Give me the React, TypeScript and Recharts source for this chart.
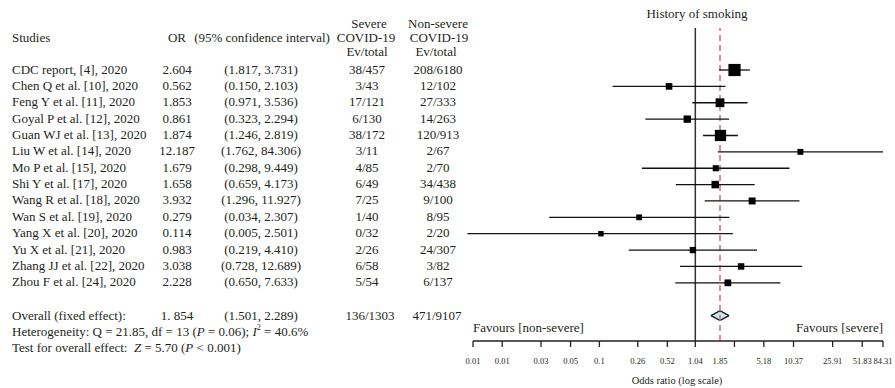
import { ComposedChart, Scatter, ErrorBar, Area, XAxis, YAxis, ReferenceLine } from 'recharts'

const studies = [
  'CDC report, [4], 2020',
  'Chen Q et al. [10], 2020',
  'Feng Y et al. [11], 2020',
  'Goyal P et al. [12], 2020',
  'Guan WJ et al. [13], 2020',
  'Liu W et al. [14], 2020',
  'Mo P et al. [15], 2020',
  'Shi Y et al. [17], 2020',
  'Wang R et al. [18], 2020',
  'Wan S et al. [19], 2020',
  'Yang X et al. [20], 2020',
  'Yu X et al. [21], 2020',
  'Zhang JJ et al. [22], 2020',
  'Zhou F et al. [24], 2020',
]
const oddsRatios = [2.604, 0.562, 1.853, 0.861, 1.874, 12.187, 1.679, 1.658, 3.932, 0.279, 0.114, 0.983, 3.038, 2.228]
const ciLower = [1.817, 0.15, 0.971, 0.323, 1.246, 1.762, 0.298, 0.659, 1.296, 0.034, 0.005, 0.219, 0.728, 0.65]
const ciUpper = [3.731, 2.103, 3.536, 2.294, 2.819, 84.306, 9.449, 4.173, 11.927, 2.307, 2.501, 4.41, 12.689, 7.633]
const severeCounts = ['38/457', '3/43', '17/121', '6/130', '38/172', '3/11', '4/85', '6/49', '7/25', '1/40', '0/32', '2/26', '6/58', '5/54']
const nonSevereCounts = ['208/6180', '12/102', '27/333', '14/263', '120/913', '2/67', '2/70', '34/438', '9/100', '8/95', '2/20', '24/307', '3/82', '6/137']
// study weights (%)
const weights = [34.7, 2.6, 10.8, 4.7, 27.0, 1.2, 1.5, 5.3, 3.6, 1.0, 0.5, 2.0, 2.2, 3.0]

const overallOR = 1.854
const overallLower = 1.501
const overallUpper = 2.289
const nullLine = 1.04

const tickValues = [0.0057, 0.0113, 0.028, 0.056, 0.11, 0.27, 0.54, 1.04, 1.854, 2.6, 5.18, 10.37, 25.91, 51.83, 84.31]
const tickLabels = ['0.01', '0.01', '0.03', '0.05', '0.1', '0.26', '0.52', '1.04', '1.85', '', '5.18', '10.37', '25.91', '51.83', '84.31']

const FONT = "'Liberation Serif', 'Times New Roman', serif"
const INK = '#231f20'
const ROW0 = 69
const ROW_H = 16.37

const scatterData = oddsRatios.map((or, i) => ({
  x: or,
  y: i,
  err: [or - ciLower[i], ciUpper[i] - or],
  w: weights[i],
}))

const diamondData = [
  { x: overallLower, band: [15, 15] },
  { x: overallOR, band: [14.7, 15.3] },
  { x: overallUpper, band: [15, 15] },
]

function Box(props: any) {
  const { cx, cy, payload } = props
  const s = 4.5 + 1.3 * Math.sqrt(payload.w)
  return <rect x={cx - s / 2} y={cy - s / 2} width={s} height={s} fill="#000" />
}

function AxisTick(props: any) {
  const { x, y, payload } = props
  const i = tickValues.indexOf(payload.value)
  return (
    <g>
      {payload.value !== overallOR && <line x1={x} x2={x} y1={y} y2={y + 6} stroke="#222" strokeWidth={1.3} />}
      <text x={x} y={y + 20} textAnchor="middle" dominantBaseline="central" fontSize={8.5} fontFamily={FONT} fill={INK}>
        {tickLabels[i]}
      </text>
    </g>
  )
}

function Table() {
  const t = (x: number, y: number, s: string, anchor = 'middle') => (
    <text x={x} y={y} textAnchor={anchor} dominantBaseline="central">{s}</text>
  )
  return (
    <svg width={895} height={388} style={{ position: 'absolute', left: 0, top: 0, pointerEvents: 'none' }}>
      <g fontFamily={FONT} fontSize={13} fill={INK}>
        {t(697, 13, 'History of smoking')}
        {t(12, 37, 'Studies', 'start')}
        {t(177, 37, 'OR')}
        {t(262, 37, '(95% confidence interval)')}
        {t(369, 23, 'Severe')}
        {t(366, 37, 'COVID-19')}
        {t(367, 51, 'Ev/total')}
        {t(438, 23, 'Non-severe')}
        {t(439, 37, 'COVID-19')}
        {t(436, 51, 'Ev/total')}
        {studies.map((s, i) => (
          <g key={s}>
            {t(12, ROW0 + i * ROW_H, s, 'start')}
            {t(177, ROW0 + i * ROW_H, oddsRatios[i].toFixed(3))}
            {t(261, ROW0 + i * ROW_H, `(${ciLower[i].toFixed(3)}, ${ciUpper[i].toFixed(3)})`)}
            {t(367, ROW0 + i * ROW_H, severeCounts[i])}
            {t(438, ROW0 + i * ROW_H, nonSevereCounts[i])}
          </g>
        ))}
        {t(12, 315, 'Overall (fixed effect):', 'start')}
        {t(177, 315, '1. 854')}
        {t(261, 315, `(${overallLower.toFixed(3)}, ${overallUpper.toFixed(3)})`)}
        {t(370, 315, '136/1303')}
        {t(437, 315, '471/9107')}
        <text x={12} y={331} dominantBaseline="central">
          Heterogeneity: Q = 21.85, df = 13 (<tspan fontStyle="italic">P</tspan> = 0.06); <tspan fontStyle="italic">I</tspan>
          <tspan fontSize={8} dy={-4}>2</tspan>
          <tspan dy={4}> = 40.6%</tspan>
        </text>
        <text x={12} y={347} dominantBaseline="central">
          Test for overall effect:{'\u00a0 '}<tspan fontStyle="italic">Z</tspan> = 5.70 (<tspan fontStyle="italic">P</tspan> {'<'} 0.001)
        </text>
        {t(473, 327, 'Favours [non-severe]', 'start')}
        {t(883, 327, 'Favours [severe]', 'end')}
        <text x={677} y={380} textAnchor="middle" dominantBaseline="central" fontSize={10.5}>Odds ratio (log scale)</text>
      </g>
    </svg>
  )
}

export default function App() {
  return (
    <div style={{ position: 'absolute', left: 0, top: 0, width: 895, height: 388, background: '#fff' }}>
      <ComposedChart width={895} height={388} margin={{ top: 28, right: 12, bottom: 0, left: 473 }}>
        <XAxis
          type="number"
          dataKey="x"
          scale="log"
          domain={[0.0057, 84.31]}
          allowDataOverflow
          ticks={tickValues}
          interval={0}
          tick={<AxisTick />}
          tickLine={false}
          tickSize={0}
          tickMargin={0}
          height={47}
          axisLine={{ stroke: '#222', strokeWidth: 1.3 }}
        />
        <YAxis type="number" dataKey="y" domain={[-2.566, 16.554]} reversed hide allowDataOverflow />
        <ReferenceLine x={nullLine} stroke="#333" strokeWidth={1.5} />
        <ReferenceLine x={overallOR} stroke="#e06464" strokeWidth={1.5} strokeDasharray="6 4" />
        <Scatter data={scatterData} shape={<Box />} isAnimationActive={false}>
          <ErrorBar dataKey="err" direction="x" width={0} stroke="#111" strokeWidth={1.3} isAnimationActive={false} />
        </Scatter>
        <Area
          data={diamondData}
          dataKey="band"
          type="linear"
          stroke="#111"
          strokeWidth={1.3}
          fill="#c6e4f1"
          fillOpacity={1}
          dot={false}
          activeDot={false}
          isAnimationActive={false}
        />
      </ComposedChart>
      <Table />
    </div>
  )
}
